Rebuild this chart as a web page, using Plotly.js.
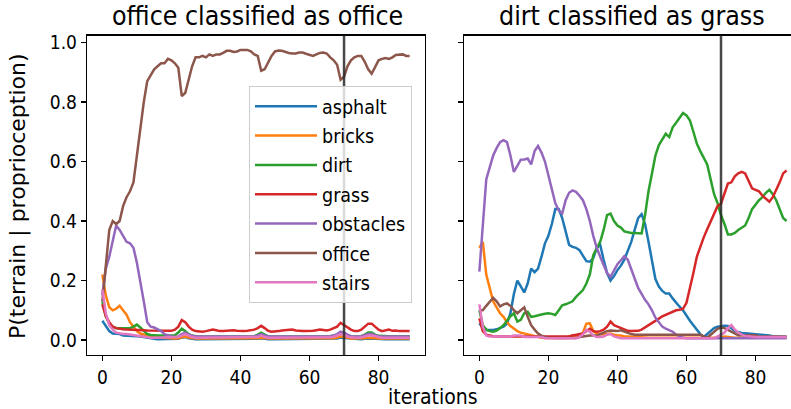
<!DOCTYPE html>
<html>
<head>
<meta charset="utf-8">
<script src="https://cdn.plot.ly/plotly-3.0.1.min.js"></script>
<style>html,body{margin:0;padding:0;background:#fff;}#chart{width:791px;height:409px;}</style>
</head>
<body>
<div id="chart"></div>
<script>
// ---- data ----
const terrains = ["asphalt", "bricks", "dirt", "grass", "obstacles", "office", "stairs"];
const colors = ["#1f77b4", "#ff7f0e", "#2ca02c", "#d62728", "#9467bd", "#8c564b", "#e377c2"];
const panelTitles = ["office classified as office", "dirt classified as grass"];
const switchIteration = 70;
const xTicks = [0, 20, 40, 60, 80];
const yTicks = [0.0, 0.2, 0.4, 0.6, 0.8, 1.0];

// left panel: office classified as office
const officeAsphalt = [0.065,0.045,0.03,0.022,0.02,0.02,0.015,0.015,0.015,0.014,0.013,0.012,0.01,0.006,0.005,0.004,0.003,0.003,0.003,0.003,0.003,0.003,0.004,0.008,0.01,0.006,0.004,0.003,0.003,0.003,0.003,0.003,0.003,0.003,0.003,0.003,0.003,0.003,0.003,0.003,0.003,0.003,0.003,0.003,0.003,0.004,0.006,0.004,0.003,0.003,0.003,0.003,0.003,0.003,0.003,0.003,0.003,0.003,0.003,0.003,0.003,0.003,0.003,0.003,0.003,0.003,0.003,0.004,0.005,0.008,0.007,0.005,0.004,0.003,0.003,0.003,0.004,0.005,0.005,0.004,0.003,0.003,0.003,0.003,0.003,0.003,0.003,0.003,0.003,0.003];
const officeBricks = [0.22,0.15,0.11,0.10,0.105,0.115,0.10,0.085,0.06,0.045,0.03,0.022,0.018,0.015,0.012,0.009,0.008,0.007,0.006,0.006,0.005,0.005,0.006,0.01,0.012,0.008,0.006,0.005,0.005,0.005,0.005,0.005,0.005,0.005,0.005,0.005,0.005,0.005,0.005,0.005,0.005,0.005,0.005,0.005,0.005,0.006,0.008,0.006,0.005,0.005,0.005,0.005,0.005,0.005,0.005,0.005,0.005,0.005,0.005,0.005,0.005,0.005,0.005,0.005,0.005,0.005,0.005,0.006,0.008,0.012,0.01,0.007,0.005,0.005,0.005,0.005,0.006,0.008,0.008,0.006,0.005,0.005,0.005,0.005,0.005,0.005,0.005,0.005,0.005,0.005];
const officeDirt = [0.13,0.08,0.055,0.045,0.04,0.04,0.04,0.04,0.04,0.045,0.052,0.042,0.03,0.02,0.017,0.015,0.015,0.015,0.015,0.015,0.015,0.016,0.025,0.038,0.03,0.02,0.014,0.012,0.012,0.012,0.012,0.012,0.012,0.012,0.012,0.012,0.012,0.012,0.012,0.012,0.012,0.012,0.012,0.012,0.013,0.018,0.025,0.018,0.013,0.012,0.012,0.012,0.012,0.012,0.012,0.012,0.012,0.012,0.012,0.012,0.012,0.012,0.012,0.012,0.012,0.012,0.013,0.015,0.018,0.025,0.022,0.016,0.012,0.012,0.012,0.013,0.018,0.025,0.025,0.018,0.014,0.013,0.013,0.013,0.013,0.013,0.013,0.013,0.013,0.013];
const officeGrass = [0.12,0.08,0.06,0.045,0.04,0.037,0.036,0.035,0.035,0.034,0.034,0.033,0.033,0.032,0.032,0.031,0.031,0.03,0.03,0.03,0.031,0.035,0.045,0.067,0.06,0.045,0.035,0.03,0.028,0.028,0.03,0.032,0.035,0.033,0.03,0.03,0.031,0.033,0.033,0.031,0.03,0.03,0.031,0.033,0.035,0.04,0.048,0.04,0.031,0.028,0.028,0.03,0.032,0.033,0.034,0.035,0.032,0.03,0.03,0.03,0.03,0.031,0.033,0.035,0.034,0.032,0.035,0.04,0.045,0.058,0.05,0.04,0.035,0.03,0.03,0.035,0.045,0.055,0.055,0.045,0.035,0.03,0.032,0.035,0.031,0.032,0.03,0.03,0.03,0.03];
const officeObstacles = [0.15,0.24,0.28,0.33,0.385,0.37,0.35,0.33,0.325,0.31,0.26,0.20,0.13,0.06,0.045,0.042,0.035,0.03,0.02,0.015,0.012,0.011,0.012,0.02,0.025,0.018,0.014,0.012,0.012,0.012,0.012,0.012,0.012,0.012,0.012,0.012,0.012,0.012,0.012,0.012,0.012,0.012,0.012,0.012,0.012,0.015,0.02,0.015,0.012,0.012,0.012,0.012,0.012,0.012,0.012,0.012,0.012,0.012,0.012,0.012,0.012,0.012,0.012,0.012,0.012,0.012,0.013,0.015,0.02,0.028,0.025,0.018,0.013,0.012,0.012,0.013,0.016,0.02,0.02,0.016,0.013,0.012,0.012,0.012,0.012,0.012,0.012,0.012,0.012,0.012];
const officeOffice = [0.13,0.25,0.37,0.40,0.39,0.40,0.45,0.48,0.50,0.53,0.62,0.72,0.80,0.87,0.89,0.91,0.92,0.93,0.93,0.945,0.94,0.93,0.915,0.82,0.83,0.88,0.92,0.95,0.95,0.955,0.95,0.96,0.955,0.96,0.96,0.965,0.972,0.972,0.968,0.97,0.975,0.975,0.975,0.97,0.96,0.955,0.905,0.91,0.935,0.955,0.97,0.973,0.972,0.968,0.965,0.963,0.963,0.966,0.966,0.962,0.958,0.955,0.96,0.965,0.966,0.963,0.95,0.94,0.925,0.875,0.885,0.92,0.94,0.95,0.955,0.955,0.935,0.91,0.895,0.92,0.94,0.945,0.948,0.945,0.95,0.958,0.96,0.96,0.955,0.955];
const officeStairs = [0.17,0.09,0.05,0.035,0.025,0.022,0.02,0.02,0.018,0.016,0.015,0.013,0.012,0.01,0.008,0.008,0.008,0.008,0.008,0.008,0.008,0.008,0.01,0.015,0.02,0.015,0.01,0.008,0.008,0.008,0.008,0.008,0.008,0.008,0.008,0.008,0.008,0.008,0.008,0.008,0.008,0.008,0.008,0.008,0.008,0.01,0.015,0.01,0.008,0.008,0.008,0.008,0.008,0.008,0.008,0.008,0.008,0.008,0.008,0.008,0.008,0.008,0.008,0.008,0.008,0.008,0.009,0.011,0.015,0.02,0.018,0.012,0.009,0.008,0.008,0.009,0.012,0.015,0.015,0.012,0.009,0.008,0.008,0.008,0.008,0.008,0.008,0.008,0.008,0.008];

// right panel: dirt classified as grass
const dirtAsphalt = [0.056,0.04,0.034,0.033,0.034,0.036,0.04,0.045,0.055,0.09,0.155,0.20,0.18,0.16,0.19,0.24,0.228,0.24,0.28,0.325,0.35,0.39,0.44,0.44,0.41,0.365,0.32,0.313,0.31,0.302,0.285,0.265,0.263,0.275,0.31,0.32,0.27,0.225,0.20,0.215,0.235,0.25,0.27,0.30,0.33,0.37,0.41,0.423,0.39,0.33,0.26,0.205,0.18,0.165,0.156,0.156,0.14,0.125,0.112,0.10,0.08,0.065,0.05,0.035,0.02,0.01,0.02,0.032,0.04,0.045,0.047,0.048,0.047,0.04,0.03,0.026,0.024,0.023,0.022,0.022,0.02,0.02,0.018,0.016,0.015,0.013,0.012,0.01,0.01,0.01];
const dirtBricks = [0.31,0.33,0.22,0.17,0.13,0.11,0.09,0.078,0.06,0.047,0.037,0.03,0.025,0.022,0.018,0.015,0.012,0.01,0.008,0.007,0.007,0.007,0.007,0.007,0.007,0.007,0.012,0.015,0.013,0.015,0.025,0.055,0.056,0.03,0.022,0.02,0.018,0.02,0.022,0.018,0.015,0.015,0.012,0.012,0.011,0.012,0.01,0.009,0.008,0.008,0.008,0.008,0.008,0.008,0.008,0.008,0.008,0.008,0.008,0.008,0.008,0.008,0.008,0.008,0.008,0.008,0.008,0.008,0.008,0.008,0.008,0.012,0.01,0.008,0.008,0.008,0.008,0.008,0.008,0.008,0.008,0.008,0.008,0.008,0.008,0.008,0.008,0.008,0.008,0.008];
const dirtDirt = [0.10,0.05,0.035,0.03,0.028,0.032,0.04,0.05,0.065,0.08,0.09,0.062,0.068,0.09,0.095,0.078,0.08,0.084,0.086,0.088,0.09,0.088,0.084,0.10,0.117,0.12,0.125,0.13,0.145,0.156,0.168,0.19,0.22,0.285,0.31,0.33,0.37,0.42,0.425,0.40,0.385,0.378,0.365,0.362,0.36,0.36,0.358,0.358,0.42,0.50,0.56,0.62,0.655,0.675,0.693,0.682,0.715,0.73,0.745,0.763,0.755,0.738,0.70,0.66,0.635,0.61,0.59,0.54,0.49,0.46,0.42,0.39,0.355,0.355,0.36,0.37,0.378,0.385,0.41,0.44,0.455,0.47,0.48,0.495,0.505,0.49,0.47,0.44,0.41,0.40];
const dirtGrass = [0.073,0.03,0.018,0.015,0.013,0.012,0.012,0.012,0.012,0.012,0.012,0.012,0.012,0.012,0.012,0.01,0.01,0.01,0.01,0.01,0.01,0.01,0.01,0.01,0.01,0.01,0.012,0.015,0.018,0.02,0.022,0.03,0.038,0.03,0.028,0.03,0.035,0.045,0.062,0.05,0.045,0.042,0.035,0.031,0.03,0.03,0.031,0.035,0.042,0.05,0.058,0.065,0.072,0.08,0.085,0.092,0.095,0.10,0.102,0.105,0.125,0.17,0.225,0.28,0.315,0.345,0.372,0.398,0.425,0.45,0.458,0.49,0.526,0.53,0.55,0.56,0.565,0.56,0.535,0.51,0.505,0.50,0.485,0.475,0.465,0.48,0.503,0.53,0.56,0.57];
const dirtObstacles = [0.23,0.40,0.54,0.58,0.62,0.645,0.665,0.672,0.665,0.62,0.565,0.585,0.606,0.607,0.61,0.59,0.635,0.652,0.63,0.60,0.555,0.51,0.46,0.435,0.425,0.47,0.495,0.503,0.498,0.485,0.47,0.44,0.40,0.35,0.31,0.28,0.25,0.225,0.212,0.235,0.255,0.268,0.282,0.27,0.24,0.205,0.175,0.155,0.135,0.12,0.10,0.075,0.058,0.045,0.038,0.032,0.028,0.018,0.012,0.008,0.006,0.006,0.006,0.006,0.006,0.006,0.006,0.006,0.006,0.006,0.006,0.006,0.006,0.006,0.006,0.006,0.006,0.006,0.006,0.006,0.006,0.006,0.006,0.006,0.006,0.006,0.006,0.006,0.006,0.006];
const dirtOffice = [0.10,0.10,0.115,0.13,0.142,0.13,0.113,0.12,0.123,0.115,0.10,0.09,0.10,0.11,0.078,0.05,0.035,0.022,0.015,0.01,0.008,0.007,0.007,0.007,0.007,0.007,0.007,0.007,0.007,0.01,0.012,0.015,0.015,0.015,0.015,0.02,0.025,0.03,0.032,0.03,0.03,0.033,0.028,0.023,0.02,0.018,0.018,0.018,0.018,0.018,0.018,0.02,0.02,0.02,0.02,0.02,0.02,0.02,0.02,0.02,0.02,0.018,0.018,0.018,0.018,0.012,0.008,0.018,0.028,0.038,0.042,0.04,0.034,0.028,0.02,0.016,0.016,0.016,0.016,0.016,0.016,0.012,0.012,0.012,0.012,0.012,0.012,0.012,0.012,0.012];
const dirtStairs = [0.12,0.045,0.015,0.012,0.012,0.012,0.012,0.012,0.012,0.012,0.015,0.016,0.015,0.01,0.01,0.01,0.01,0.01,0.01,0.006,0.006,0.006,0.006,0.006,0.006,0.006,0.006,0.006,0.006,0.01,0.02,0.034,0.028,0.015,0.01,0.01,0.012,0.018,0.02,0.012,0.008,0.006,0.006,0.006,0.006,0.006,0.006,0.006,0.006,0.006,0.006,0.006,0.006,0.006,0.006,0.006,0.006,0.006,0.006,0.006,0.006,0.006,0.006,0.006,0.006,0.006,0.006,0.006,0.006,0.012,0.017,0.025,0.04,0.05,0.035,0.025,0.018,0.014,0.012,0.01,0.01,0.01,0.01,0.01,0.01,0.01,0.01,0.01,0.01,0.01];

const officeSeries = [officeAsphalt, officeBricks, officeDirt, officeGrass, officeObstacles, officeOffice, officeStairs];
const dirtSeries = [dirtAsphalt, dirtBricks, dirtDirt, dirtGrass, dirtObstacles, dirtOffice, dirtStairs];

// ---- build ----
const FONT = "'DejaVu Sans Condensed', 'Liberation Sans Narrow', 'DejaVu Sans', sans-serif";
const FONT_V = "'DejaVu Sans', sans-serif";
const iters = officeOffice.map((_, i) => i);
const traces = [];
terrains.forEach((name, k) => {
  traces.push({x: iters, y: officeSeries[k], type: 'scatter', mode: 'lines', name: name,
    legendgroup: name, line: {color: colors[k], width: 2.5}, xaxis: 'x', yaxis: 'y', hoverinfo: 'skip'});
});
terrains.forEach((name, k) => {
  traces.push({x: iters, y: dirtSeries[k], type: 'scatter', mode: 'lines', name: name,
    legendgroup: name, showlegend: false, line: {color: colors[k], width: 2.5}, xaxis: 'x2', yaxis: 'y2', hoverinfo: 'skip'});
});

const W = 791, H = 409;
const yDom = [(H - 355) / H, (H - 35.5) / H];
const axCommon = {
  showgrid: false, zeroline: false, showline: true, linecolor: '#000', linewidth: 1.2,
  ticks: 'outside', ticklen: 5, tickwidth: 1.2, tickcolor: '#000',
  tickfont: {family: FONT, size: 19, color: '#000'}
};
const yRange = [-0.0503, 1.0235];

const layout = {
  width: W, height: H,
  margin: {l: 0, r: 0, t: 0, b: 0},
  paper_bgcolor: '#fff', plot_bgcolor: '#fff',
  font: {family: FONT, color: '#000'},
  showlegend: true,
  legend: {x: 249 / W, y: (H - 86) / H, xanchor: 'left', yanchor: 'top',
    bgcolor: 'rgba(255,255,255,0.8)', bordercolor: '#cccccc', borderwidth: 1,
    font: {family: FONT, size: 19.5, color: '#000'}, tracegroupgap: 1, itemwidth: 62},
  xaxis: Object.assign({}, axCommon, {domain: [87 / W, 425 / W], range: [-4.45, 93.45], tickvals: xTicks, mirror: true, anchor: 'y'}),
  yaxis: Object.assign({}, axCommon, {domain: yDom, range: yRange, tickvals: yTicks, tickformat: '.1f', mirror: true, anchor: 'x'}),
  xaxis2: Object.assign({}, axCommon, {domain: [464 / W, 1], range: [-4.45, 90.28], tickvals: xTicks, mirror: true, anchor: 'y2'}),
  yaxis2: Object.assign({}, axCommon, {domain: yDom, range: yRange, tickvals: yTicks, showticklabels: false, mirror: false, anchor: 'x2'}),
  shapes: [
    {type: 'line', xref: 'x', yref: 'y domain', x0: switchIteration, x1: switchIteration, y0: 0, y1: 1, line: {color: 'rgba(40,40,40,0.85)', width: 2.5}},
    {type: 'line', xref: 'x2', yref: 'y2 domain', x0: switchIteration, x1: switchIteration, y0: 0, y1: 1, line: {color: 'rgba(40,40,40,0.85)', width: 2.5}}
  ],
  annotations: [
    {text: panelTitles[0], xref: 'paper', yref: 'paper', x: 257 / W, y: (H - 16) / H, xanchor: 'center', yanchor: 'middle', showarrow: false, font: {family: FONT, size: 26.5, color: '#000'}},
    {text: panelTitles[1], xref: 'paper', yref: 'paper', x: 632 / W, y: (H - 16) / H, xanchor: 'center', yanchor: 'middle', showarrow: false, font: {family: FONT, size: 26.5, color: '#000'}},
    {text: 'P(terrain | proprioception)', xref: 'paper', yref: 'paper', x: 18 / W, y: (H - 196) / H, xanchor: 'center', yanchor: 'middle', textangle: -90, showarrow: false, font: {family: FONT_V, size: 22, color: '#000'}},
    {text: 'iterations', xref: 'paper', yref: 'paper', x: 433 / W, y: (H - 397) / H, xanchor: 'center', yanchor: 'middle', showarrow: false, font: {family: FONT, size: 21, color: '#000'}}
  ]
};

Plotly.newPlot('chart', traces, layout, {staticPlot: true, displayModeBar: false});
</script>
</body>
</html>
